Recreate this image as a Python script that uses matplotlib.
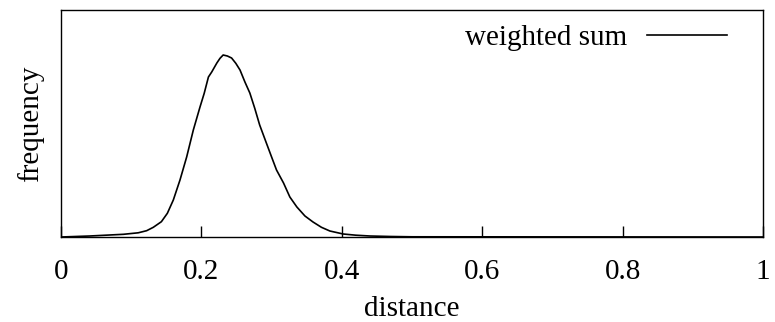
import numpy as np
import matplotlib.pyplot as plt

# distance / frequency readings (frequency in arbitrary units, peak ~182)
distance = [0.0, 0.041, 0.089, 0.110, 0.122, 0.1315, 0.143, 0.1515, 0.160, 0.1695,
            0.179, 0.1885, 0.198, 0.204, 0.210, 0.2147, 0.222, 0.2265, 0.231,
            0.237, 0.243, 0.249, 0.255, 0.262, 0.269, 0.276, 0.283, 0.292,
            0.300, 0.307, 0.317, 0.326, 0.336, 0.3475, 0.359, 0.371, 0.383,
            0.402, 0.420, 0.440, 0.470, 0.500, 1.0]
frequency = [0, 1, 2.7, 4.2, 6.3, 9.7, 15.3, 23.7, 37, 57,
             80, 107, 130, 143.7, 160, 165, 174, 178.7, 182,
             181, 179, 173.7, 167, 155, 144, 128.7, 112, 95,
             80, 67, 54, 40, 30, 21, 15, 9.7, 6,
             3, 1.8, 1, 0.5, 0.2, 0]

xticks = [0, 0.2, 0.4, 0.6, 0.8, 1]
xticklabels = ['0', '0.2', '0.4', '0.6', '0.8', '1']

plt.rcParams['font.family'] = ['Liberation Serif', 'DejaVu Serif']

fig = plt.figure(figsize=(7.75, 3.22), dpi=100)
ax = fig.add_axes([61/775, 1 - 237/322, (763 - 61)/775, (237 - 10)/322])

ax.plot(distance, frequency, 'k-', lw=1.2, label='weighted sum')

ax.set_xlim(0, 1)
ax.set_ylim(0, 227)
ax.set_xticks(xticks)
ax.set_xticklabels(xticklabels)
ax.set_yticks([])
ax.tick_params(axis='x', direction='in', length=8, width=1.0, pad=15.5,
               labelsize=21, top=False)
for s in ax.spines.values():
    s.set_linewidth(1.0)

ax.set_xlabel('distance', fontsize=21, labelpad=8)
ax.set_ylabel('frequency', fontsize=21, labelpad=12)

ax.legend(loc='upper right', frameon=False, markerfirst=False, fontsize=21,
          handlelength=2.74, handletextpad=0.69, borderaxespad=0, borderpad=0,
          bbox_to_anchor=(0.9487, 0.936))

fig.savefig('out.png', dpi=100)
